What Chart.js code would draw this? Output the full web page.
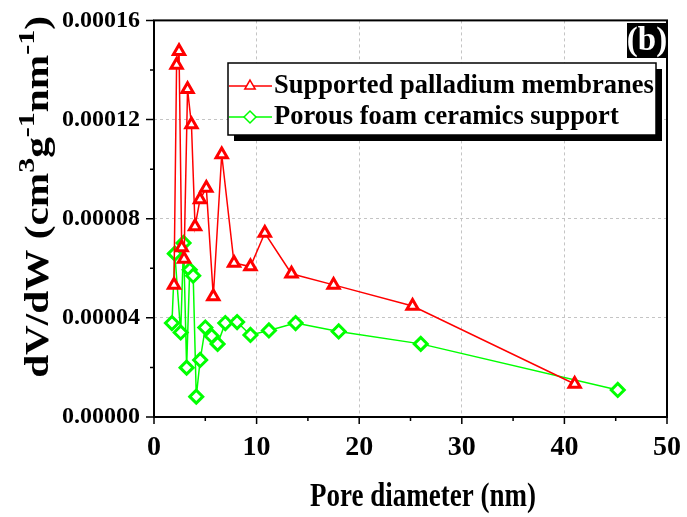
<!DOCTYPE html>
<html>
<head>
<meta charset="utf-8">
<script src="https://cdn.jsdelivr.net/npm/chart.js@4.4.1/dist/chart.umd.min.js"></script>
<style>
  body { margin: 0; background: #fff; }
  canvas { display: block; }
</style>
</head>
<body>
<canvas id="grafik" width="687" height="517"></canvas>
<script>
// data
const membranX = [1.95, 2.2, 2.44, 2.7, 2.93, 3.27, 3.65, 4.0, 4.48, 5.1, 5.78, 6.6, 7.8, 9.4, 10.8, 13.4, 17.5, 25.2, 41.0];
const membranY = [0.0000533, 0.0001420, 0.0001476, 0.0000684, 0.0000637, 0.0001322, 0.0001180, 0.0000769, 0.0000877, 0.0000924, 0.0000486, 0.0001059, 0.0000621, 0.0000607, 0.0000742, 0.0000578, 0.0000533, 0.0000448, 0.0000133];

const supportX = [1.75, 2.03, 2.6, 2.88, 3.18, 3.48, 3.82, 4.12, 4.5, 5.0, 5.62, 6.2, 6.95, 8.1, 9.4, 11.2, 13.8, 18.0, 26.0, 45.2];
const supportY = [0.0000379, 0.0000659, 0.0000341, 0.0000702, 0.0000199, 0.0000594, 0.0000570, 0.0000082, 0.0000230, 0.0000361, 0.0000327, 0.0000295, 0.0000379, 0.0000383, 0.0000331, 0.0000349, 0.0000379, 0.0000345, 0.0000295, 0.0000109];

const seriesNames = ['Supported palladium membranes', 'Porous foam ceramics support'];
const xTickLabels = ['0', '10', '20', '30', '40', '50'];
const yTickLabels = ['0.00000', '0.00004', '0.00008', '0.00012', '0.00016'];

const huruf = '"Liberation Serif", "Times New Roman", serif';

// plugin untuk bingkai, tick, judul sumbu, legenda dan label (b)
const hiasan = {
  id: 'hiasan',
  afterDraw(chart) {
    const ctx = chart.ctx;
    const a = chart.chartArea;
    const sx = chart.scales.x;
    const sy = chart.scales.y;
    ctx.save();

    // bingkai
    ctx.strokeStyle = '#000';
    ctx.lineWidth = 2;
    ctx.strokeRect(a.left, a.top, a.right - a.left, a.bottom - a.top);

    // tick mayor & minor
    ctx.lineWidth = 1.5;
    ctx.beginPath();
    sx.ticks.forEach(t => {
      const px = sx.getPixelForValue(t.value);
      const len = Math.round(t.value) % 10 === 0 ? 7 : 4;
      ctx.moveTo(px, a.bottom);
      ctx.lineTo(px, a.bottom + len);
    });
    sy.ticks.forEach(t => {
      const py = sy.getPixelForValue(t.value);
      const k = Math.round(t.value / 0.00002);
      const len = k % 2 === 0 ? 8 : 4;
      ctx.moveTo(a.left, py);
      ctx.lineTo(a.left - len, py);
    });
    ctx.stroke();

    // judul sumbu x
    ctx.fillStyle = '#000';
    ctx.save();
    ctx.translate(423, 497);
    ctx.scale(1, 1.22);
    ctx.font = 'bold 27px ' + huruf;
    ctx.textAlign = 'center';
    ctx.textBaseline = 'middle';
    ctx.fillText('Pore diameter (nm)', 0, 0);
    ctx.restore();

    // judul sumbu y dengan pangkat
    const bagian = [
      ['dV/dW (cm', false], ['3', true], ['g', false], ['-1', true],
      ['nm', false], ['-1', true], [')', false]
    ];
    const fontBesar = 'bold 33px ' + huruf;
    const fontKecil = 'bold 24px ' + huruf;
    let total = 0;
    bagian.forEach(b => {
      ctx.font = b[1] ? fontKecil : fontBesar;
      total += ctx.measureText(b[0]).width;
    });
    ctx.save();
    ctx.translate(48, 197);
    ctx.rotate(-Math.PI / 2);
    ctx.scale(1.25, 1);
    ctx.textAlign = 'left';
    ctx.textBaseline = 'alphabetic';
    let pos = -total / 2;
    bagian.forEach(b => {
      ctx.font = b[1] ? fontKecil : fontBesar;
      ctx.fillText(b[0], pos, b[1] ? -14 : 0);
      pos += ctx.measureText(b[0]).width;
    });
    ctx.restore();

    // label (b)
    ctx.fillStyle = '#000';
    ctx.fillRect(627, 23, a.right - 627, 35);
    ctx.fillStyle = '#fff';
    ctx.font = 'bold 33px ' + huruf;
    ctx.textAlign = 'center';
    ctx.textBaseline = 'middle';
    ctx.fillText('(b)', 647, 41);

    // legenda
    const lx = 228, ly = 63, lw = 428, lh = 72;
    ctx.fillStyle = '#000';
    ctx.fillRect(lx + 6, ly + 6, lw, lh);
    ctx.fillStyle = '#fff';
    ctx.fillRect(lx, ly, lw, lh);
    ctx.strokeStyle = '#000';
    ctx.lineWidth = 1.5;
    ctx.strokeRect(lx, ly, lw, lh);

    const baris = [86, 117];
    chart.data.datasets.forEach((ds, i) => {
      const yy = baris[i];
      ctx.strokeStyle = ds.borderColor;
      ctx.lineWidth = 1.5;
      ctx.beginPath();
      ctx.moveTo(lx + 1, yy);
      ctx.lineTo(lx + 44, yy);
      ctx.stroke();
      ctx.fillStyle = '#fff';
      ctx.strokeStyle = ds.pointBorderColor;
      Chart.helpers.drawPoint(ctx, {
        pointStyle: ds.pointStyle, radius: 6, rotation: 0, borderWidth: 2.5
      }, lx + 22, yy);
      ctx.fillStyle = '#000';
      ctx.font = 'bold 26.5px ' + huruf;
      ctx.textAlign = 'left';
      ctx.textBaseline = 'middle';
      ctx.fillText(ds.label, lx + 46, yy);
    });

    ctx.restore();
  }
};

const ctx = document.getElementById('grafik').getContext('2d');
const grafik = new Chart(ctx, {
  type: 'scatter',
  data: {
    datasets: [{
      label: seriesNames[0],
      data: membranX.map((v, i) => ({ x: v, y: membranY[i] })),
      showLine: true,
      borderColor: '#ff0000',
      borderWidth: 1.5,
      pointStyle: 'triangle',
      pointRadius: 6.5,
      pointBorderWidth: 3,
      pointBorderColor: '#ff0000',
      pointBackgroundColor: '#ffffff',
      order: 0
    }, {
      label: seriesNames[1],
      data: supportX.map((v, i) => ({ x: v, y: supportY[i] })),
      showLine: true,
      borderColor: '#00ff00',
      borderWidth: 1.5,
      pointStyle: 'rectRot',
      pointRadius: 6.5,
      pointBorderWidth: 3,
      pointBorderColor: '#00ff00',
      pointBackgroundColor: '#ffffff',
      order: 1
    }]
  },
  options: {
    responsive: false,
    animation: false,
    layout: { padding: { top: 20, right: 20, left: 0, bottom: 0 } },
    plugins: {
      legend: { display: false },
      tooltip: { enabled: false }
    },
    scales: {
      x: {
        type: 'linear',
        min: 0,
        max: 50,
        afterFit: s => { s.height = 100; },
        ticks: {
          stepSize: 5,
          autoSkip: false,
          maxRotation: 0,
          padding: 6,
          color: '#000',
          font: { family: huruf, size: 28, weight: 'bold' },
          callback: v => (Math.round(v) % 10 === 0 ? xTickLabels[Math.round(v) / 10] : '')
        },
        grid: {
          color: c => (c.tick && Math.round(c.tick.value) % 10 === 0 && c.tick.value > 0 && c.tick.value < 50 ? '#c4c4c4' : 'transparent'),
          lineWidth: 1,
          tickLength: 8,
          tickColor: 'transparent'
        },
        border: { display: false, dash: [3, 3] }
      },
      y: {
        type: 'linear',
        min: 0,
        max: 0.00016,
        afterFit: s => { s.width = 154; },
        ticks: {
          stepSize: 0.00002,
          autoSkip: false,
          padding: 6,
          color: '#000',
          font: { family: huruf, size: 24, weight: 'bold' },
          callback: v => {
            const k = Math.round(v / 0.00002);
            return k % 2 === 0 ? yTickLabels[k / 2] : '';
          }
        },
        grid: {
          color: c => {
            if (!c.tick) return 'transparent';
            const k = Math.round(c.tick.value / 0.00002);
            return k % 2 === 0 && k > 0 && k < 8 ? '#c4c4c4' : 'transparent';
          },
          lineWidth: 1,
          tickLength: 8,
          tickColor: 'transparent'
        },
        border: { display: false, dash: [3, 3] }
      }
    }
  },
  plugins: [hiasan]
});
</script>
</body>
</html>
